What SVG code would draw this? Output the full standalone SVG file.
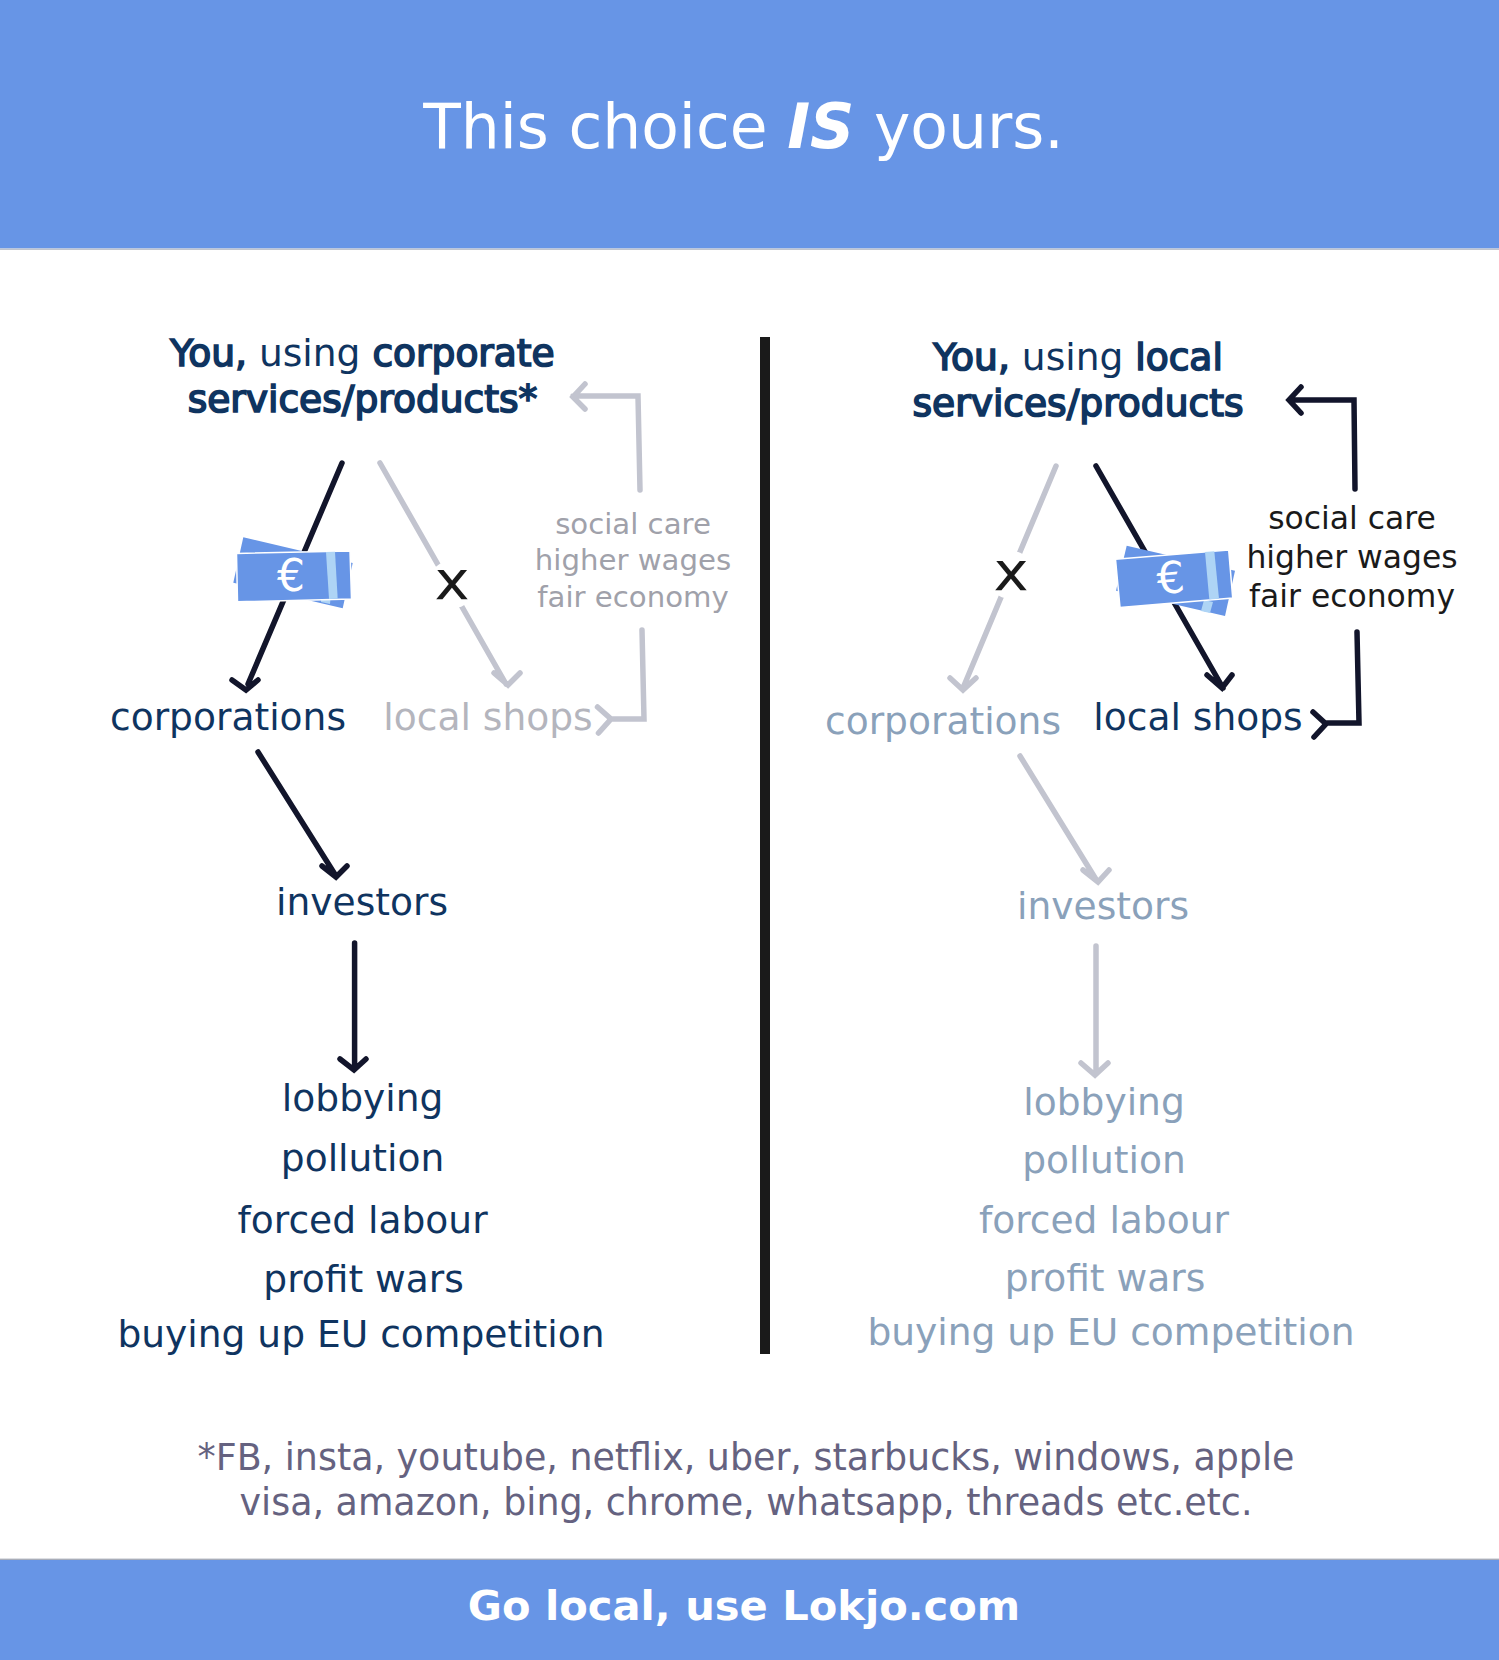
<svg xmlns="http://www.w3.org/2000/svg" width="1499" height="1660" viewBox="0 0 1499 1660">
<style>
text{font-family:"DejaVu Sans",sans-serif;text-anchor:middle}
.n{font-size:37.6px;fill:#0f3460}
.f{font-size:37.6px;fill:#8aa1ba}
.g{font-size:37.6px;fill:#b4b5bd}
.b{stroke:#0f3460;stroke-width:1.7px;font-weight:400}
.d path{fill:none;stroke:#12152b;stroke-width:5.500;stroke-linecap:round;stroke-linejoin:miter}
.l path{fill:none;stroke:#c2c4cf;stroke-width:5.500;stroke-linecap:round;stroke-linejoin:miter}
.note{fill:#6795e6}
.front{fill:#6795e6;stroke:#fff;stroke-width:1.500}
.band{fill:#aed4f5}
.eur{font-size:44px;fill:#fff}
.x{font-size:53px;fill:#1a1a1a}
</style>
<rect id="header" width="1499" height="248.500" fill="#6795e6"/>
<rect y="248.500" width="1499" height="1.500" fill="#c0c4ce"/>
<text id="title" x="743.500" y="148" font-size="61.500" fill="#fff">This choice <tspan font-weight="700" font-style="italic">IS</tspan> yours.</text>
<rect y="1558" width="1499" height="1" fill="#dddfe4"/>
<rect y="1559" width="1499" height="1" fill="#a9adb8"/>
<rect id="footer" y="1560" width="1499" height="100" fill="#6795e6"/>
<text id="cta" x="744" y="1620" font-size="41.600" font-weight="700" fill="#fff">Go local, use Lokjo.com</text>
<rect id="divider" x="760" y="337" width="10" height="1017" fill="#1a1a1a"/>

<g id="connectors">
<g class="d">
<path d="M342 463L248 684M232 680L246 690L258 680"/>
<path d="M258 752L336 876M322 866L336 877L347 866"/>
<path d="M354.600 943V1069M340 1059L354 1070L366 1059"/>
<path d="M1096 466L1223 688M1207 675L1222 688L1232 675"/>
<path d="M1355 489L1354 400H1290M1301 387L1289 400L1301 413"/>
<path d="M1357 632L1359 723H1326M1313 712L1326 724L1314 737"/>
</g>
<g class="l">
<path d="M380 463L506 684M494 673L508 685L520 673"/>
<path d="M640 490L638 396H573M585 384L573 397L585 409"/>
<path d="M642 630L644 719H611M597.500 707L611 719L598.500 733"/>
<path d="M1056 466L963 688M950 678L963 690L976 678"/>
<path d="M1020 756L1097 881M1083 870L1098 882L1109 870"/>
<path d="M1096 946V1073M1081 1063L1095 1075L1108 1063"/>
</g>
</g>

<g id="left-you"><text class="n" x="362.500" y="366"><tspan class="b">You,</tspan> using <tspan class="b">corporate</tspan></text><text class="n b" x="362.500" y="412">services/products*</text></g>
<g id="right-you"><text class="n" x="1078" y="370"><tspan class="b">You,</tspan> using <tspan class="b">local</tspan></text><text class="n b" x="1078" y="416">services/products</text></g>

<g id="left-money">
<polygon class="note" points="243.300,537.300 352.700,563 342.700,608.300 233.300,582.700"/>
<polygon class="band" points="322,590 331,592 330,604 321,602"/>
<polygon class="front" points="236.500,553.500 350,551 351.500,599 237.500,601.800"/>
<polygon class="band" points="326,552 335,551.800 337.700,598.800 329,599"/>
<text class="eur" x="291" y="591">€</text>
</g>
<g id="right-money">
<polygon class="note" points="1126.700,545.700 1235,570.700 1225,616 1116,590.700"/>
<polygon class="band" points="1204,600 1213,602 1210,613 1201,611"/>
<polygon class="front" points="1115.500,559.300 1228.700,550 1232.700,598 1120,607.500"/>
<polygon class="band" points="1205,552 1214.300,551.200 1219,598.700 1209.300,599.500"/>
<text class="eur" x="1170.700" y="593" transform="rotate(-5 1170.700 578)">€</text>
</g>

<g id="left-x"><circle cx="452" cy="584.500" r="24" fill="#fff"/><text class="x" transform="translate(452 599) scale(1.12 1)">x</text></g>
<g id="right-x"><circle cx="1011" cy="575" r="24" fill="#fff"/><text class="x" transform="translate(1011 590) scale(1.12 1)">x</text></g>

<g id="left-corporations"><text class="n" x="228" y="730">corporations</text></g>
<g id="left-shops"><text class="g" x="488" y="729.500">local shops</text></g>
<g id="left-benefits" font-size="29.200" fill="#a0a1aa"><text x="633" y="534">social care</text><text x="633" y="570">higher wages</text><text x="633" y="607">fair economy</text></g>
<g id="left-investors"><text class="n" x="362" y="915">investors</text></g>
<g id="left-list"><text class="n" x="362.600" y="1111">lobbying</text><text class="n" x="362.600" y="1170.500">pollution</text><text class="n" x="362.600" y="1233">forced labour</text><text class="n" x="363.600" y="1292">profit wars</text><text class="n" x="361" y="1347">buying up EU competition</text></g>

<g id="right-corporations"><text class="f" x="943" y="734">corporations</text></g>
<g id="right-shops"><text class="n" x="1198" y="729.500">local shops</text></g>
<g id="right-benefits" font-size="31.400" fill="#1a1a1a"><text x="1352" y="529">social care</text><text x="1352" y="568">higher wages</text><text x="1352" y="607">fair economy</text></g>
<g id="right-investors"><text class="f" x="1103" y="919">investors</text></g>
<g id="right-list"><text class="f" x="1104" y="1115">lobbying</text><text class="f" x="1104" y="1173">pollution</text><text class="f" x="1104" y="1233">forced labour</text><text class="f" x="1105" y="1291">profit wars</text><text class="f" x="1111" y="1345">buying up EU competition</text></g>

<g id="footnote" font-size="36.400" fill="#656280"><text x="746" y="1470">*FB, insta, youtube, netflix, uber, starbucks, windows, apple</text><text x="746" y="1515">visa, amazon, bing, chrome, whatsapp, threads etc.etc.</text></g>
</svg>
